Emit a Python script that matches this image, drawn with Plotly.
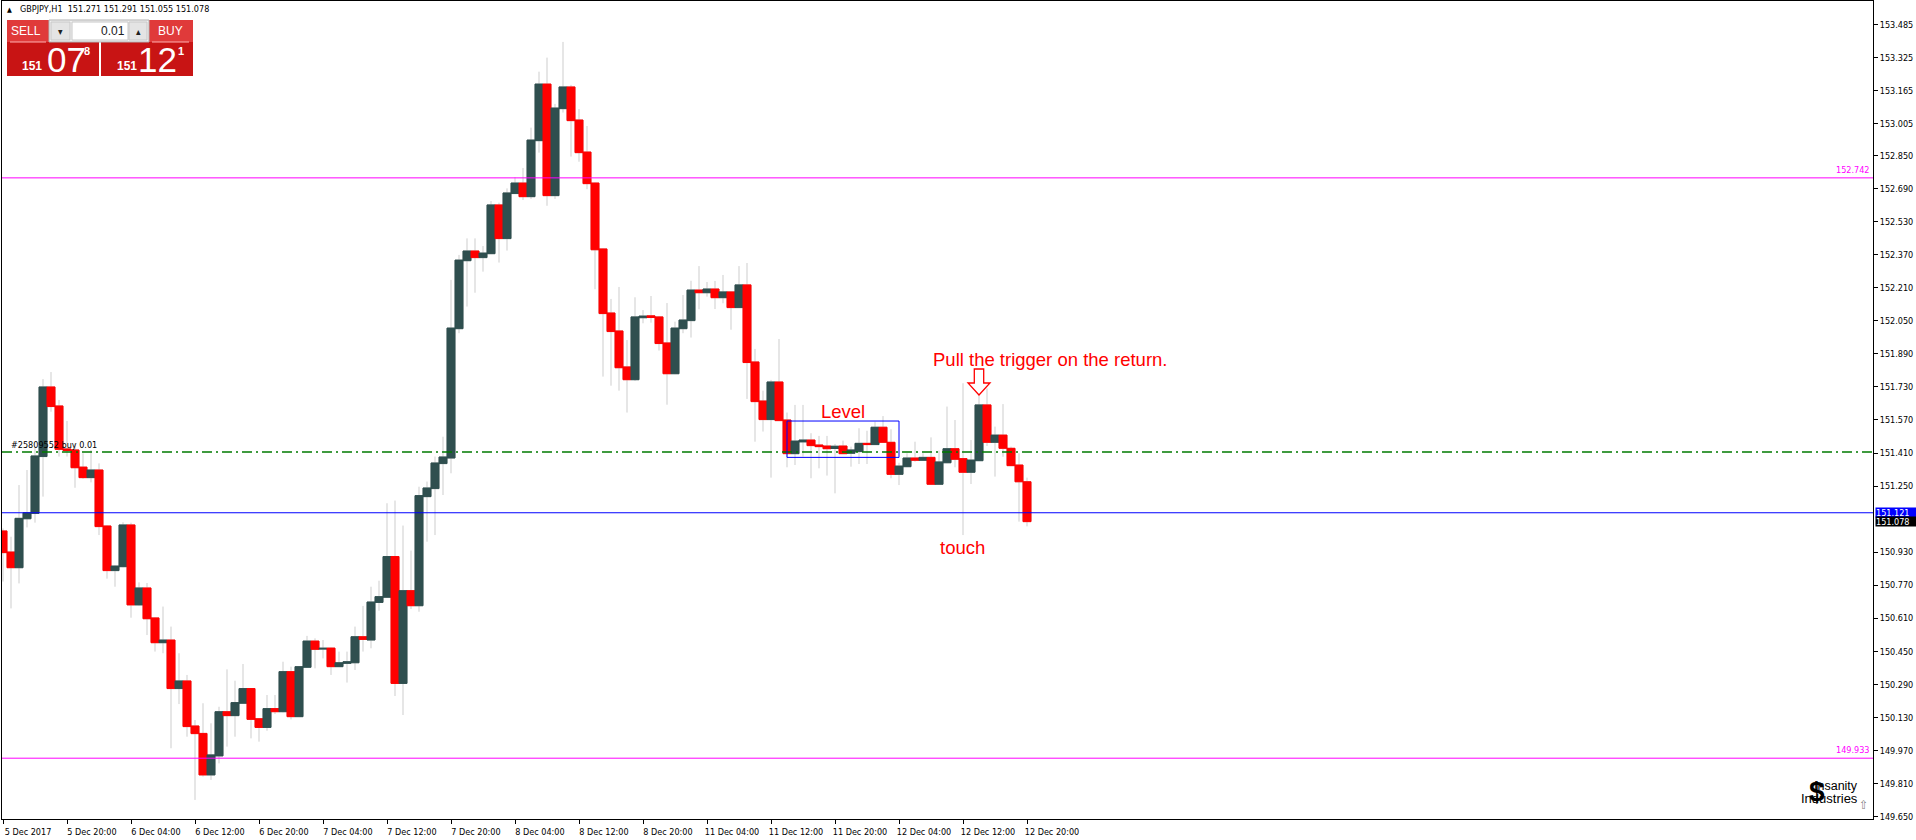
import plotly.graph_objects as go

# ---------------- data (GBPJPY H1) ----------------
opens = [151.033, 150.931, 150.855, 151.092, 151.118, 151.393, 151.730, 151.638, 151.430, 151.425,
         151.342, 151.291, 151.328, 151.057, 150.841, 150.860, 151.062, 150.675, 150.757, 150.612,
         150.492, 150.505, 150.270, 150.307, 150.089, 150.053, 149.852, 149.944, 150.158, 150.139,
         150.199, 150.270, 150.124, 150.082, 150.173, 150.158, 150.352, 150.134, 150.373, 150.500,
         150.461, 150.466, 150.376, 150.392, 150.395, 150.521, 150.505, 150.687, 150.712, 150.909,
         150.295, 150.744, 150.671, 151.199, 151.238, 151.359, 151.386, 152.012, 152.341, 152.388,
         152.356, 152.375, 152.611, 152.448, 152.666, 152.717, 152.651, 152.922, 153.196, 152.656,
         153.077, 153.182, 153.022, 152.867, 152.717, 152.398, 152.088, 152.001, 151.827, 151.765,
         152.065, 152.074, 152.069, 151.943, 151.794, 152.012, 152.051, 152.199, 152.186, 152.204,
         152.162, 152.190, 152.114, 152.224, 151.851, 151.662, 151.572, 151.754, 151.570, 151.407,
         151.464, 151.473, 151.449, 151.444, 151.432, 151.444, 151.409, 151.417, 151.457, 151.451,
         151.535, 151.462, 151.307, 151.344, 151.386, 151.375, 151.389, 151.259, 151.363, 151.431,
         151.383, 151.317, 151.373, 151.643, 151.462, 151.497, 151.433, 151.352, 151.271]
highs = [151.045, 151.005, 151.255, 151.328, 151.440, 151.768, 151.802, 151.667, 151.565, 151.457,
         151.409, 151.425, 151.360, 151.060, 150.866, 151.075, 151.073, 150.784, 150.781, 150.614,
         150.667, 150.570, 150.441, 150.336, 150.118, 150.199, 150.102, 150.182, 150.363, 150.308,
         150.389, 150.272, 150.126, 150.239, 150.239, 150.400, 150.376, 150.378, 150.525, 150.513,
         150.505, 150.468, 150.449, 150.449, 150.570, 150.670, 150.763, 150.792, 151.167, 151.180,
         151.059, 150.938, 151.247, 151.272, 151.393, 151.489, 152.248, 152.369, 152.449, 152.449,
         152.412, 152.630, 152.622, 152.691, 152.745, 152.790, 152.985, 153.256, 153.324, 153.100,
         153.400, 153.192, 153.075, 152.993, 152.719, 152.401, 152.156, 152.214, 151.957, 152.164,
         152.102, 152.170, 152.073, 152.136, 152.046, 152.175, 152.244, 152.315, 152.238, 152.243,
         152.272, 152.192, 152.315, 152.330, 151.914, 151.712, 151.764, 151.962, 151.606, 151.643,
         151.643, 151.506, 151.493, 151.493, 151.454, 151.470, 151.441, 151.530, 151.518, 151.562,
         151.589, 151.525, 151.363, 151.409, 151.465, 151.409, 151.486, 151.422, 151.635, 151.570,
         151.748, 151.473, 151.691, 151.723, 151.538, 151.647, 151.441, 151.409, 151.291]
lows = [150.788, 150.658, 150.779, 151.050, 151.073, 151.199, 151.610, 151.393, 151.393, 151.242,
        151.285, 151.268, 151.013, 150.802, 150.763, 150.857, 150.613, 150.672, 150.529, 150.449,
        150.441, 149.981, 150.195, 150.037, 149.731, 149.844, 149.828, 149.908, 149.989, 150.037,
        150.197, 150.029, 150.013, 150.066, 150.147, 150.155, 150.121, 150.132, 150.371, 150.368,
        150.416, 150.336, 150.374, 150.299, 150.360, 150.449, 150.465, 150.647, 150.710, 150.234,
        150.142, 150.655, 150.642, 150.981, 151.013, 151.207, 151.312, 151.990, 152.119, 152.186,
        152.288, 152.373, 152.332, 152.390, 152.664, 152.635, 152.640, 152.864, 152.607, 152.640,
        153.058, 152.845, 152.820, 152.687, 152.203, 151.780, 151.736, 151.712, 151.606, 151.759,
        152.038, 152.041, 151.906, 151.644, 151.792, 151.990, 151.969, 152.106, 152.167, 152.107,
        152.135, 152.007, 152.112, 151.672, 151.465, 151.514, 151.291, 151.565, 151.341, 151.352,
        151.393, 151.288, 151.336, 151.301, 151.215, 151.405, 151.344, 151.357, 151.357, 151.449,
        151.460, 151.288, 151.255, 151.342, 151.368, 151.373, 151.257, 151.257, 151.361, 151.341,
        151.013, 151.260, 151.371, 151.444, 151.296, 151.392, 151.347, 151.078, 151.055]
closes = [150.928, 150.855, 151.094, 151.121, 151.396, 151.730, 151.635, 151.428, 151.422, 151.339,
          151.291, 151.328, 151.054, 150.841, 150.863, 151.062, 150.675, 150.757, 150.608, 150.492,
          150.505, 150.270, 150.307, 150.086, 150.052, 149.852, 149.949, 150.158, 150.139, 150.202,
          150.270, 150.121, 150.082, 150.173, 150.158, 150.352, 150.134, 150.376, 150.500, 150.460,
          150.465, 150.376, 150.395, 150.400, 150.521, 150.508, 150.689, 150.715, 150.909, 150.295,
          150.744, 150.671, 151.204, 151.241, 151.362, 151.391, 152.015, 152.344, 152.388, 152.356,
          152.378, 152.611, 152.448, 152.669, 152.717, 152.651, 152.925, 153.196, 152.656, 153.080,
          153.182, 153.019, 152.864, 152.714, 152.394, 152.085, 151.998, 151.823, 151.765, 152.069,
          152.073, 152.066, 151.940, 151.794, 152.015, 152.054, 152.199, 152.186, 152.204, 152.162,
          152.190, 152.114, 152.224, 151.848, 151.659, 151.572, 151.754, 151.567, 151.407, 151.468,
          151.473, 151.446, 151.441, 151.431, 151.443, 151.407, 151.425, 151.457, 151.451, 151.535,
          151.462, 151.307, 151.347, 151.386, 151.375, 151.389, 151.259, 151.367, 151.431, 151.380,
          151.317, 151.376, 151.643, 151.462, 151.497, 151.433, 151.349, 151.271, 151.078]
bar_index = list(range(len(opens)))

time_tick_bars = [0, 8, 16, 24, 32, 40, 48, 56, 64, 72, 80, 88, 96, 104, 112, 120, 128]
time_tick_labels = ["5 Dec 2017", "5 Dec 20:00", "6 Dec 04:00", "6 Dec 12:00", "6 Dec 20:00",
                    "7 Dec 04:00", "7 Dec 12:00", "7 Dec 20:00", "8 Dec 04:00", "8 Dec 12:00",
                    "8 Dec 20:00", "11 Dec 04:00", "11 Dec 12:00", "11 Dec 20:00", "12 Dec 04:00",
                    "12 Dec 12:00", "12 Dec 20:00"]
price_ticks = [153.485, 153.325, 153.165, 153.005, 152.850, 152.690, 152.530, 152.370, 152.210,
               152.050, 151.890, 151.730, 151.570, 151.410, 151.250, 150.930, 150.770, 150.610,
               150.450, 150.290, 150.130, 149.970, 149.810, 149.650]
price_tick_labels = ["%.3f" % v for v in price_ticks]

upper_level = 152.742
lower_level = 149.933
touch_level = 151.121
order_price = 151.415
bid_price = 151.078
level_box_bars = [98, 112]
level_box_prices = [151.389, 151.565]
header_text = "GBPJPY,H1  151.271 151.291 151.055 151.078"
order_label = "#25809552 buy 0.01"

# ---------------- layout geometry ----------------
W, H = 1916, 840
PL, PR, PT, PB = 2, 1873, 1, 819
PW, PH = PR - PL, PB - PT
PX_PER_BAR = 8.0
PX_PER_PRICE = 206.6
x_lo = -0.125
y_lo = 149.6387
x_range = [x_lo, x_lo + PW / PX_PER_BAR]
y_range = [y_lo, y_lo + PH / PX_PER_PRICE]

def fx(px):
    return (px - PL) / PW

def fy(py):
    return (PB - py) / PH

BULL = "#2F4F4F"
BEAR = "#FF0000"
WICK = "#CDCDCD"
FONT = "DejaVu Sans Condensed, DejaVu Sans, Liberation Sans, sans-serif"
ARIAL = "Liberation Sans, Arial, sans-serif"

fig = go.Figure()

# wicks
fig.add_trace(go.Candlestick(
    x=bar_index, open=opens, high=highs, low=lows, close=closes,
    increasing=dict(line=dict(color=WICK, width=1), fillcolor=BULL),
    decreasing=dict(line=dict(color=WICK, width=1), fillcolor=BEAR),
    whiskerwidth=0, showlegend=False, hoverinfo="skip"))
# bodies
body_hi = [max(o, c) for o, c in zip(opens, closes)]
body_lo = [min(o, c) for o, c in zip(opens, closes)]
fig.add_trace(go.Candlestick(
    x=bar_index, open=opens, high=body_hi, low=body_lo, close=closes,
    increasing=dict(line=dict(color=BULL, width=1), fillcolor=BULL),
    decreasing=dict(line=dict(color=BEAR, width=1), fillcolor=BEAR),
    whiskerwidth=0, showlegend=False, hoverinfo="skip"))

shapes = []
# horizontal levels
shapes.append(dict(type="line", xref="paper", x0=0, x1=1, yref="y", y0=upper_level, y1=upper_level,
                   line=dict(color="#FF00FF", width=1)))
shapes.append(dict(type="line", xref="paper", x0=0, x1=1, yref="y", y0=lower_level, y1=lower_level,
                   line=dict(color="#FF00FF", width=1)))
shapes.append(dict(type="line", xref="paper", x0=0, x1=1, yref="y", y0=touch_level, y1=touch_level,
                   line=dict(color="#0000FF", width=1)))
shapes.append(dict(type="line", xref="paper", x0=0, x1=1, yref="y", y0=order_price, y1=order_price,
                   line=dict(color="#007A00", width=1.3, dash="10px,4px,2px,4px")))
# level box
shapes.append(dict(type="rect", xref="x", yref="y", x0=level_box_bars[0], x1=level_box_bars[1],
                   y0=level_box_prices[0], y1=level_box_prices[1],
                   line=dict(color="#0000FF", width=1), fillcolor="rgba(0,0,0,0)"))

# down arrow above bar 122 (outline), built from pixel offsets
ab = 122
tip = highs[ab]
def ap(dx, dy):
    return (ab + dx / PX_PER_BAR, tip + dy / PX_PER_PRICE)
pts = [ap(-4.7, 26), ap(4.7, 26), ap(4.7, 12), ap(11, 12), ap(0, 0), ap(-11, 12), ap(-4.7, 12)]
path = "M " + " L ".join("%.4f,%.5f" % p for p in pts) + " Z"
shapes.append(dict(type="path", xref="x", yref="y", path=path,
                   line=dict(color="#FF0000", width=1.3), fillcolor="white"))

# one-click trading panel
RED_T = "#E03A3A"
RED_B = "#C81414"
def prect(x0, y0, x1, y1, fill, line=None, lw=0):
    d = dict(type="rect", xref="paper", yref="paper", x0=fx(x0), x1=fx(x1), y0=fy(y1), y1=fy(y0),
             fillcolor=fill, line=dict(width=lw, color=line or fill), layer="above")
    shapes.append(d)
prect(7, 20, 99, 42, RED_T)
prect(7, 42, 99, 76, RED_B)
prect(101, 20, 193, 42, RED_T)
prect(101, 42, 193, 76, RED_B)
prect(49, 20, 149, 42, "#F0F0F0", "#B0B0B0", 1)
prect(51, 22, 70, 40, "#E4E4E4", "#C8C8C8", 1)
prect(72, 22, 128, 40, "#FFFFFF", "#C8C8C8", 1)
prect(129, 22, 147, 40, "#E4E4E4", "#C8C8C8", 1)
shapes.append(dict(type="line", xref="paper", yref="paper", x0=fx(10), x1=fx(46), y0=fy(42), y1=fy(42),
                   line=dict(color="#FFB0B0", width=1), layer="above"))
shapes.append(dict(type="line", xref="paper", yref="paper", x0=fx(152), x1=fx(189), y0=fy(42), y1=fy(42),
                   line=dict(color="#FFB0B0", width=1), layer="above"))

annotations = []
def ptext(x, y, text, size, color="black", family=FONT, anchor="center", bold=False):
    if bold:
        text = "<b>" + text + "</b>"
    annotations.append(dict(xref="paper", yref="paper", x=fx(x), y=fy(y), text=text, showarrow=False,
                            xanchor=anchor, yanchor="middle", font=dict(size=size, color=color, family=family)))

ptext(9, 10, "▲", 7)
ptext(18, 9, header_text, 9, anchor="left")
ptext(26, 31, "SELL", 12, "white", ARIAL)
ptext(170, 31, "BUY", 12, "white", ARIAL)
ptext(60, 31, "▾", 10, "#202020")
ptext(138, 31, "▴", 10, "#202020")
ptext(127, 31, "0.01", 12, "#202020", ARIAL, anchor="right")
ptext(32, 66, "151", 12, "white", ARIAL, bold=True)
ptext(66, 60, "07", 35, "white", ARIAL)
ptext(87, 51, "8", 11, "white", ARIAL, bold=True)
ptext(127, 66, "151", 12, "white", ARIAL, bold=True)
ptext(157, 60, "12", 35, "white", ARIAL)
ptext(181, 51, "1", 11, "white", ARIAL, bold=True)

# logo
ptext(1817, 791, "$", 28, "black", ARIAL, bold=True)
ptext(1836, 786, "Insanity", 12.5, "black", ARIAL)
ptext(1829, 798, "Industries", 13, "black", ARIAL)
ptext(1863, 805, "⇧", 12, "#808080")

# chart texts
annotations.append(dict(xref="x", yref="y", x=ab + 8.9, y=151.865, text="Pull the trigger on the return.",
                        showarrow=False, font=dict(size=18.5, color="#FF0000", family=ARIAL)))
annotations.append(dict(xref="x", yref="y", x=104.94, y=151.611, text="Level",
                        showarrow=False, font=dict(size=18.5, color="#FF0000", family=ARIAL)))
annotations.append(dict(xref="x", yref="y", x=119.94, y=150.953, text="touch",
                        showarrow=False, font=dict(size=18.5, color="#FF0000", family=ARIAL)))
annotations.append(dict(xref="x", yref="y", x=0.75, y=order_price, text=order_label, xanchor="left",
                        yanchor="bottom", yshift=0, showarrow=False, font=dict(size=9, color="black", family=FONT)))
# level labels
for lvl in (upper_level, lower_level):
    annotations.append(dict(xref="paper", yref="y", x=1, y=lvl, xanchor="right", xshift=-2, yanchor="bottom",
                            yshift=1, text="%.3f" % lvl, showarrow=False,
                            font=dict(size=9, color="#FF00FF", family=FONT)))
# price boxes on the axis
for lvl, bg in ((touch_level, "#0000FF"), (bid_price, "#000000")):
    annotations.append(dict(xref="paper", yref="y", x=fx(1875), y=lvl, xanchor="left", yanchor="middle",
                            text="%.3f" % lvl, showarrow=False, bgcolor=bg, width=40, height=9,
                            align="left", borderpad=0, font=dict(size=9, color="white", family=FONT)))

fig.update_layout(
    width=W, height=H, autosize=False,
    margin=dict(l=PL, r=W - PR, t=PT, b=H - PB, pad=0),
    paper_bgcolor="white", plot_bgcolor="white",
    showlegend=False, boxgap=0, boxgroupgap=0, boxmode="overlay",
    shapes=shapes, annotations=annotations,
    xaxis=dict(range=x_range, tickmode="array", tickvals=time_tick_bars, ticktext=time_tick_labels,
               ticks="outside", ticklen=4, tickcolor="black", showline=True, linecolor="black",
               linewidth=1, mirror=True, showgrid=False, zeroline=False, automargin=False,
               ticklabelshift=25, tickfont=dict(size=9, color="black", family=FONT),
               rangeslider=dict(visible=False), fixedrange=True),
    yaxis=dict(range=y_range, side="right", tickmode="array", tickvals=price_ticks, ticktext=price_tick_labels,
               ticks="outside", ticklen=4, tickcolor="black", showline=True, linecolor="black",
               linewidth=1, mirror=True, showgrid=False, zeroline=False, automargin=False,
               tickfont=dict(size=9, color="black", family=FONT), fixedrange=True),
)

fig.write_html("out.html", config={"displayModeBar": False},
               post_script="document.body.style.margin='0';document.body.style.overflow='hidden';")
